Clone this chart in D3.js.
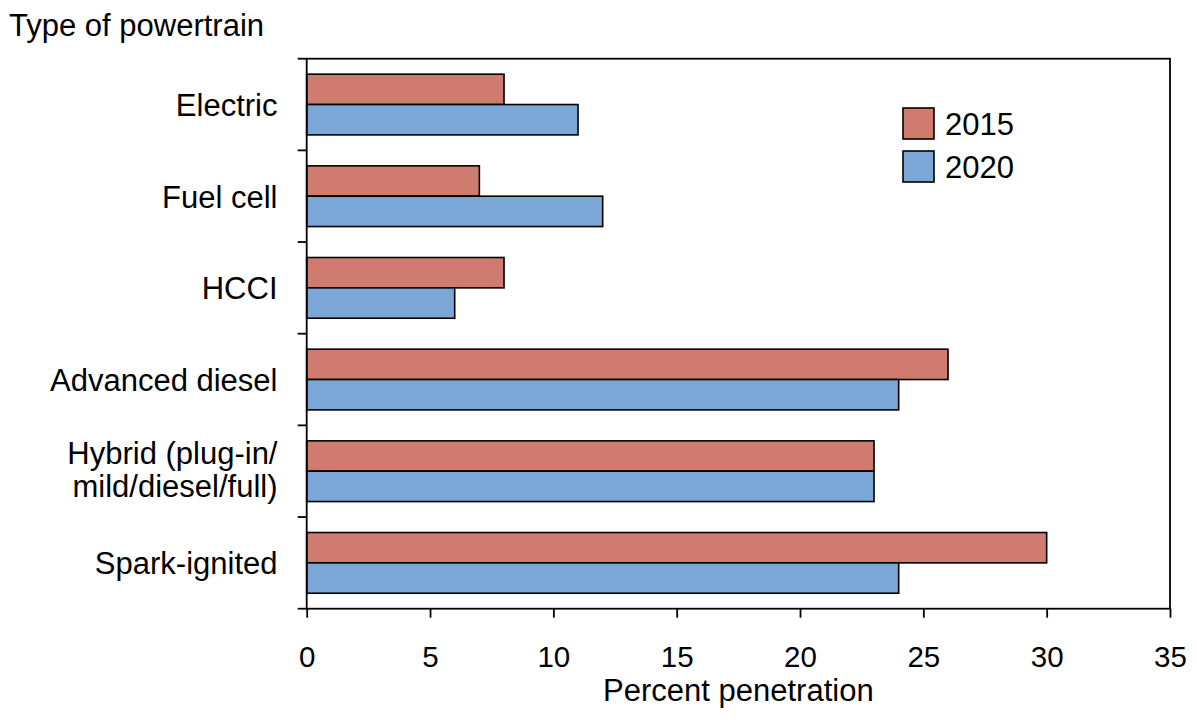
<!DOCTYPE html>
<html><head><meta charset="utf-8">
<script src="https://cdn.jsdelivr.net/npm/d3@7"></script>
<style>body{margin:0;background:#fff}svg{display:block;font-family:"Liberation Sans",Arial,sans-serif}</style>
</head><body><svg id="c" width="1197" height="720"></svg>
<script>
const categories = ["Electric","Fuel cell","HCCI","Advanced diesel","Hybrid (plug-in/\nmild/diesel/full)","Spark-ignited"];
const series = ["2015","2020"];
const values2015 = [8,7,8,26,23,30];
const values2020 = [11,12,6,24,23,24];
const xTicks = [0,5,10,15,20,25,30,35];
const colors = {"2015":"#cf7b70","2020":"#7ba7d7"};

const svg = d3.select("#c");
const L=306.7,R=1170,T=58.7,B=608.7;
const FS = 31;
const x = d3.scaleLinear().domain([0,35]).range([L,R]);
const y = d3.scaleBand().domain(categories).range([T,B]).padding(0);
const ys = d3.scaleBand().domain(series).range([0,y.bandwidth()]).paddingInner(0).paddingOuter(0.51);
const data = {"2015":values2015,"2020":values2020};

// bars
categories.forEach((c,i)=>{
  series.forEach(s=>{
    svg.append("rect").attr("x",x(0)).attr("y",y(c)+ys(s))
      .attr("width",x(data[s][i])-x(0)).attr("height",ys.bandwidth())
      .attr("fill",colors[s]).attr("stroke","#000").attr("stroke-width",1.6);
  });
});

// frame
svg.append("rect").attr("x",L).attr("y",T).attr("width",R-L).attr("height",B-T)
  .attr("fill","none").attr("stroke","#000").attr("stroke-width",1.8);

// x axis
const xa = svg.append("g").attr("transform",`translate(0,${B})`)
  .call(d3.axisBottom(x).tickValues(xTicks).tickSize(9).tickPadding(28).tickFormat(d3.format("d")));
xa.select(".domain").remove();
xa.selectAll("line").attr("stroke","#000").attr("stroke-width",1.8);
xa.selectAll("text").attr("font-size",29.5).attr("fill","#000").attr("font-family","Liberation Sans, Arial, sans-serif");

// y boundary ticks
const bounds = categories.map(c=>y(c)).concat([B]);
svg.selectAll(".yt").data(bounds).enter().append("line")
  .attr("x1",L-9).attr("x2",L).attr("y1",d=>d).attr("y2",d=>d)
  .attr("stroke","#000").attr("stroke-width",1.8);

// y labels
categories.forEach(c=>{
  const lines = c.split("\n");
  const cy = y(c)+y.bandwidth()/2;
  const lh = 33;
  const off = lines.length>1 ? 9.5 : 11.4;
  const t = svg.append("text").attr("text-anchor","end").attr("font-size",FS).attr("fill","#000");
  lines.forEach((ln,k)=>{
    t.append("tspan").attr("x",277.5).attr("y",cy + (k-(lines.length-1)/2)*lh + off).text(ln);
  });
});

// titles
svg.append("text").attr("x",9).attr("y",35.7).attr("font-size",FS).attr("fill","#000").text("Type of powertrain");
svg.append("text").attr("x",(L+R)/2).attr("y",701).attr("text-anchor","middle").attr("font-size",FS).attr("fill","#000").text("Percent penetration");

// legend
series.forEach((s,i)=>{
  const g = svg.append("g").attr("transform",`translate(903,${108+i*43})`);
  g.append("rect").attr("width",31).attr("height",31).attr("fill",colors[s]).attr("stroke","#000").attr("stroke-width",1.6);
  g.append("text").attr("x",42).attr("y",27).attr("font-size",FS).attr("fill","#000").text(s);
});
</script></body></html>
